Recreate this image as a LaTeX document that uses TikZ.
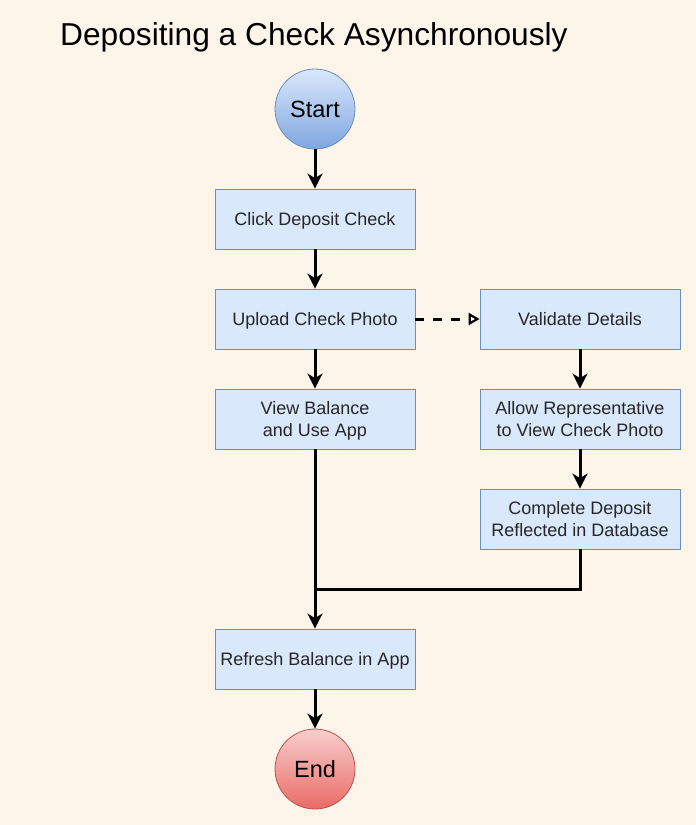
\documentclass[tikz,border=0pt]{standalone}
\usepackage{fontspec}
\setmainfont{Liberation Sans}
\usetikzlibrary{arrows.meta,shadings}
\definecolor{bg}{HTML}{FDF5EA}
\definecolor{boxfill}{HTML}{DAE8FC}
\definecolor{boxline}{HTML}{6C8EBF}
\definecolor{stA}{HTML}{DAE8FC}
\definecolor{stB}{HTML}{7EA6E0}
\definecolor{enA}{HTML}{F8CECC}
\definecolor{enB}{HTML}{EA6B66}
\definecolor{enL}{HTML}{B85450}
\newcommand\mytstrut{\rule{0pt}{17.2pt}}
\newcommand\mybstrut{\rule[-3.8pt]{0pt}{3.8pt}}
\begin{document}
\begin{tikzpicture}[x=1pt,y=-1pt,
  stepbox/.style={draw=boxline,fill=boxfill,line width=0.8pt,minimum width=200pt,minimum height=60pt,inner sep=0pt,align=center,font=\fontsize{18}{22}\selectfont,text=black!85},
  startnode/.style={circle,draw=boxline,line width=0.8pt,top color=stA,bottom color=stB,minimum size=80pt,inner sep=0pt,font=\fontsize{23.5}{27}\selectfont},
  endnode/.style={circle,draw=enL,line width=0.8pt,top color=enA,bottom color=enB,minimum size=80pt,inner sep=0pt,font=\fontsize{23.5}{27}\selectfont},
  conn/.style={line width=3pt,-{Stealth[length=15pt,width=15pt,inset=4.5pt]}},
  dconn/.style={line width=3pt,dash pattern=on 9pt off 9pt,-{Triangle[open,fill=white,length=11pt,width=12pt,line width=2.2pt]}}
]
\path[fill=bg] (0,0) rectangle (696,825);
\useasboundingbox (0,0) rectangle (696,825);
\node[anchor=base west,font=\fontsize{31.7}{36}\selectfont,inner sep=0pt] (title) at (60,45) {Depositing a Check Asynchronously};
\node[startnode] (start) at (315,109) {Start};
\node[stepbox] (click) at (315,219) {\mytstrut Click Deposit Check\mybstrut};
\node[stepbox] (upload) at (315,319) {\mytstrut Upload Check Photo\mybstrut};
\node[stepbox] (view) at (315,419) {\mytstrut View Balance\\and Use App\mybstrut};
\node[stepbox] (valid) at (580,319) {\mytstrut Validate Details\mybstrut};
\node[stepbox] (allow) at (580,419) {\mytstrut Allow Representative\\to View Check Photo\mybstrut};
\node[stepbox] (complete) at (580,519) {\mytstrut Complete Deposit\\Reflected in Database\mybstrut};
\node[stepbox] (refresh) at (315,659) {\mytstrut Refresh Balance in App\mybstrut};
\node[endnode] (end) at (315,769) {End};
\coordinate (join) at (315,589);
\draw[conn] (start) -- (click);
\draw[conn] (click) -- (upload);
\draw[conn] (upload) -- (view);
\draw[conn] (view) -- (refresh);
\draw[conn] (valid) -- (allow);
\draw[conn] (allow) -- (complete);
\draw[line width=3pt] (complete.south) |- (join);
\draw[conn] (refresh) -- (end);
\draw[dconn] (upload) -- (valid);
\end{tikzpicture}
\end{document}
